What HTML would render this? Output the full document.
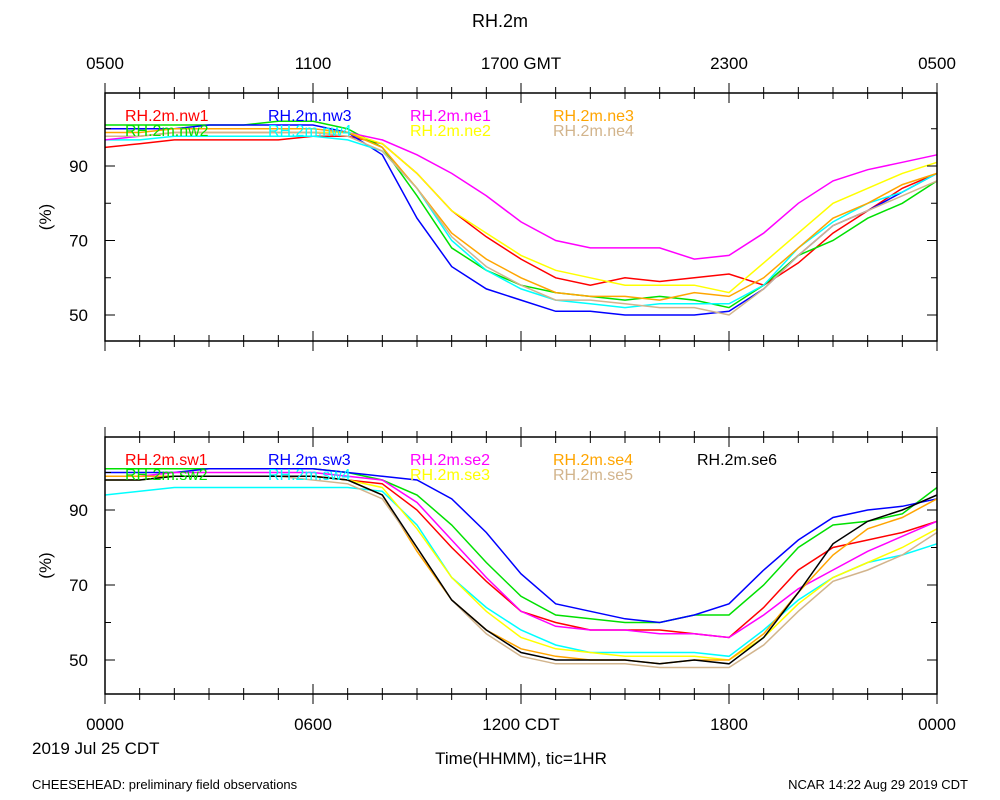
<!DOCTYPE html>
<html><head><meta charset="utf-8"><style>
body{margin:0;background:#fff}
svg{display:block;font-family:"Liberation Sans",sans-serif}
</style></head><body>
<svg id="c" width="1000" height="800"></svg>
<script>
const hours=[0,1,2,3,4,5,6,7,8,9,10,11,12,13,14,15,16,17,18,19,20,21,22,23,24];
const topNames=["RH.2m.nw1","RH.2m.nw2","RH.2m.nw3","RH.2m.nw4","RH.2m.ne1","RH.2m.ne2","RH.2m.ne3","RH.2m.ne4"];
const topColors=["red","#00e000","blue","cyan","magenta","yellow","orange","tan"];
const nw1=[95,96,97,97,97,97,98,98,96,88,78,71,65,60,58,60,59,60,61,58,64,72,78,84,88];
const nw2=[101,101,101,101,101,102,102,100,95,82,68,62,58,56,55,54,55,54,52,58,66,70,76,80,86];
const nw3=[100,100,100,101,101,101,101,99,93,76,63,57,54,51,51,50,50,50,51,57,66,74,78,83,88];
const nw4=[97,97,98,98,98,98,98,97,94,84,70,62,57,54,53,52,53,53,53,58,68,75,80,83,88];
const ne1=[97,98,99,99,99,99,99,99,97,93,88,82,75,70,68,68,68,65,66,72,80,86,89,91,93];
const ne2=[98,98,99,99,99,99,99,99,96,88,78,72,66,62,60,58,58,58,56,64,72,80,84,88,91];
const ne3=[99,99,100,100,100,100,100,99,95,84,72,65,60,56,55,55,54,56,55,60,68,76,80,85,88];
const ne4=[98,98,99,99,99,99,99,98,94,84,71,63,58,54,54,53,52,52,50,57,66,74,78,82,86];
const botNames=["RH.2m.sw1","RH.2m.sw2","RH.2m.sw3","RH.2m.sw4","RH.2m.se2","RH.2m.se3","RH.2m.se4","RH.2m.se5","RH.2m.se6"];
const botColors=["red","#00e000","blue","cyan","magenta","yellow","orange","tan","black"];
const sw1=[99,99,99,99,99,99,99,98,97,90,80,71,63,60,58,58,58,57,56,64,74,80,82,84,87];
const sw2=[101,101,101,101,101,101,101,100,98,94,86,76,67,62,61,60,60,62,62,70,80,86,87,89,96];
const sw3=[100,100,100,101,101,101,101,100,99,98,93,84,73,65,63,61,60,62,65,74,82,88,90,91,93];
const sw4=[94,95,96,96,96,96,96,96,95,86,72,64,58,54,52,52,52,52,51,58,66,72,76,78,81];
const se2=[99,99,100,100,100,100,100,99,98,92,82,72,63,59,58,58,57,57,56,62,69,74,79,83,87];
const se3=[98,98,99,99,99,99,99,98,96,85,72,63,56,53,52,51,51,51,50,56,65,72,76,80,85];
const se4=[99,99,99,99,99,99,99,98,94,79,66,58,53,51,50,50,49,50,50,57,68,78,85,88,93];
const se5=[98,98,99,99,99,99,98,97,93,80,66,57,51,49,49,49,48,48,48,54,63,71,74,78,84];
const se6=[98,98,99,99,99,99,99,98,94,80,66,58,52,50,50,50,49,50,49,56,68,81,87,90,94];
const topSeries=[nw1,nw2,nw3,nw4,ne1,ne2,ne3,ne4];
const botSeries=[sw1,sw2,sw3,sw4,se2,se3,se4,se5,se6];
const yTicks=[50,60,70,80,90,100];
const topXLabels=["0500","1100","1700 GMT","2300","0500"];
const botXLabels=["0000","0600","1200 CDT","1800","0000"];

const svg=document.getElementById('c');
const NS="http://www.w3.org/2000/svg";
function mk(tag,attrs,parent,name){const e=document.createElementNS(NS,tag);for(const k in attrs)e.setAttribute(k,attrs[k]);(parent||svg).appendChild(e);


return e;}
function txt(s,x,y,size,anchor,fill,name,extra){const t=mk('text',Object.assign({x:x,y:y,'font-size':size,'text-anchor':anchor||'start',fill:fill||'black'},extra||{}),svg,name);t.textContent=s;return t;}
const X0=105,X1=937;
function xs(h){return X0+(X1-X0)*h/24;}
function panel(top,bot,y50,y90,series,colors,names,pname){
  const ys=v=>y50+(v-50)*(y90-y50)/40;
  const g=mk('g',{},svg,pname);
  series.forEach((s,i)=>{
    const d=s.map((v,j)=>(j?'L':'M')+xs(hours[j]).toFixed(1)+','+ys(v).toFixed(1)).join('');
    mk('path',{d:d,fill:'none',stroke:colors[i],'stroke-width':1.5},g,'line-'+names[i].replace(/\./g,'-').toLowerCase());
  });
  mk('rect',{x:X0,y:top,width:X1-X0,height:bot-top,fill:'none',stroke:'black','stroke-width':1.5},g,pname+'-frame');
  for(let h=0;h<=24;h++){const x=xs(h),L=h%6==0?10:6;
    mk('line',{x1:x,y1:top,x2:x,y2:top+L,stroke:'black'},g,'x-tick');
    mk('line',{x1:x,y1:bot,x2:x,y2:bot-L,stroke:'black'},g,'x-tick');
    mk('line',{x1:x,y1:top,x2:x,y2:top-L,stroke:'black'},g,'x-tick-out');
    mk('line',{x1:x,y1:bot,x2:x,y2:bot+L,stroke:'black'},g,'x-tick-out');}
  yTicks.forEach(v=>{const y=ys(v),L=(v-50)%20==0?10:6;
    mk('line',{x1:X0,y1:y,x2:X0+L,y2:y,stroke:'black'},g,'y-tick');
    mk('line',{x1:X1,y1:y,x2:X1-L,y2:y,stroke:'black'},g,'y-tick');
    if((v-50)%20==0) txt(String(v),88,y+6,17,'end','black','y-tick-label');});
  txt('(%)',0,0,17,'middle','black','y-axis-title',{transform:'translate(51,'+((top+bot)/2)+') rotate(-90)'});
  const lx=[125,268,410,553,697];
  names.forEach((n,i)=>{let col=i<4?Math.floor(i/2):2+Math.floor((i-4)/2);let row=i<4?i%2:(i-4)%2;
    if(names.length==9&&i==8){col=4;row=0;}
    txt(n,lx[col],top+28+row*15,16,'start',colors[i],'legend-entry');});
}
panel(93,341,315,166,topSeries,topColors,topNames,'top-panel');
panel(437,694,660,510,botSeries,botColors,botNames,'bottom-panel');
txt('RH.2m',500,27,18,'middle','black','chart-title');
topXLabels.forEach((l,i)=>txt(l,xs(i*6),69,17,'middle','black','top-x-label'));
botXLabels.forEach((l,i)=>txt(l,xs(i*6),730,17,'middle','black','bottom-x-label'));
txt('2019 Jul 25 CDT',32,754,17,'start','black','date-label');
txt('Time(HHMM), tic=1HR',521,764,17,'middle','black','x-axis-title');
txt('CHEESEHEAD: preliminary field observations',32,789,13,'start','black','footer-left');
txt('NCAR 14:22 Aug 29 2019 CDT',968,789,13,'end','black','footer-right');
</script>
</body></html>
